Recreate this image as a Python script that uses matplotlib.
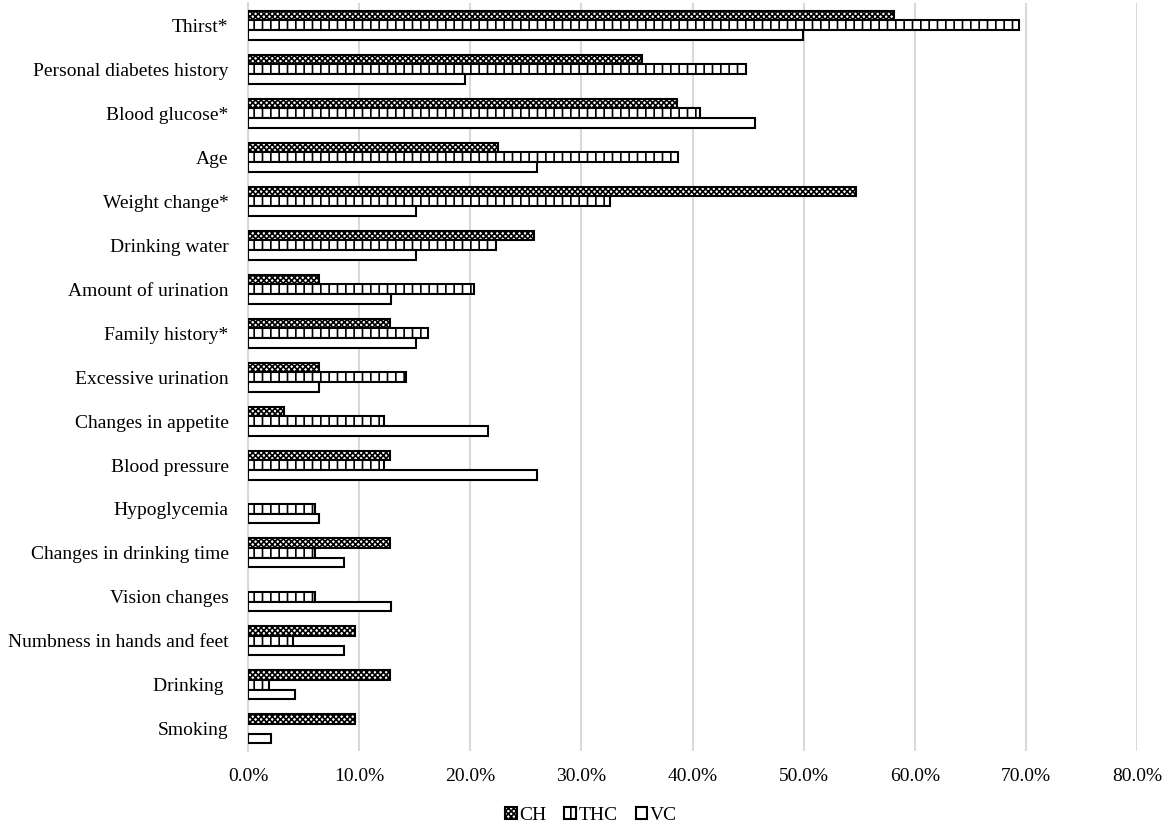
import matplotlib
matplotlib.use('Agg')
import matplotlib.pyplot as plt
from matplotlib.ticker import FuncFormatter
import numpy as np

plt.rcParams['font.family'] = ['Liberation Serif', 'DejaVu Serif']
plt.rcParams['hatch.linewidth'] = 1.2

# Symptom / factor categories (top to bottom)
categories = ['Thirst*', 'Personal diabetes history', 'Blood glucose*', 'Age',
              'Weight change*', 'Drinking water', 'Amount of urination',
              'Family history*', 'Excessive urination', 'Changes in appetite',
              'Blood pressure', 'Hypoglycemia', 'Changes in drinking time',
              'Vision changes', 'Numbness in hands and feet', 'Drinking ', 'Smoking']

# percentages per group
ch = [58.1, 35.4, 38.6, 22.5, 54.7, 25.7, 6.4, 12.8, 6.4, 3.2, 12.8, 0.0, 12.8, 0.0, 9.6, 12.8, 9.6]
thc = [69.4, 44.8, 40.7, 38.7, 32.6, 22.3, 20.3, 16.2, 14.2, 12.2, 12.2, 6.0, 6.0, 6.0, 4.0, 1.9, 0.0]
vc = [49.9, 19.5, 45.6, 26.0, 15.1, 15.1, 12.9, 15.1, 6.4, 21.6, 26.0, 6.4, 8.6, 12.9, 8.6, 4.2, 2.1]


def nonzero(vals):
    # zero-width bars would still draw an edge line
    vals = np.array(vals, dtype=float)
    return np.where(vals > 0, vals, np.nan)


fig = plt.figure(figsize=(11.7, 8.26), dpi=100)
ax = fig.add_axes([0.212, 0.091, 0.760, 0.905])

y = np.arange(len(categories))
h = 0.22

ax.barh(y - h, nonzero(ch), height=h, facecolor='white', edgecolor='black', linewidth=1.5,
        hatch='xxxxxx', label='CH', zorder=3)
ax.barh(y, nonzero(thc), height=h, facecolor='white', edgecolor='black', linewidth=1.5,
        hatch='||', label='THC', zorder=3)
ax.barh(y + h, nonzero(vc), height=h, facecolor='white', edgecolor='black', linewidth=1.5,
        label='VC', zorder=3)

ax.set_yticks(y)
ax.set_yticklabels(categories, fontsize=14)
ax.set_ylim(len(categories) - 0.5, -0.5)
ax.set_xlim(0, 80)
ax.set_xticks(np.arange(0, 81, 10))
ax.xaxis.set_major_formatter(FuncFormatter(lambda v, p: f'{v:.1f}%'))
ax.tick_params(axis='x', labelsize=14, length=0, pad=12)
ax.tick_params(axis='y', length=0, pad=14)

ax.grid(axis='x', color='#d9d9d9', linewidth=1.5, zorder=0)
for s in ['top', 'right', 'bottom']:
    ax.spines[s].set_visible(False)
ax.spines['left'].set_color('#d9d9d9')
ax.spines['left'].set_linewidth(1.5)

ax.legend(loc='center', bbox_to_anchor=(0.386, -0.086), ncol=3, frameon=False,
          fontsize=14, handlelength=0.6, handleheight=0.6, handletextpad=0.15,
          columnspacing=0.9, borderpad=0.1)

fig.savefig('out.png', dpi=100)
